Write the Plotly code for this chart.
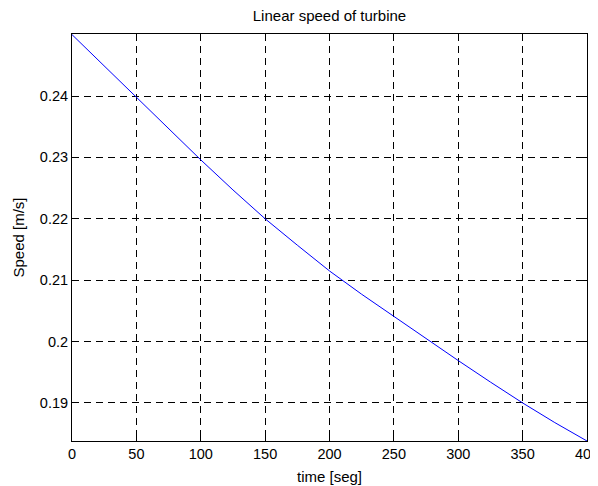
import plotly.graph_objects as go

# time [seg] and speed [m/s]
time_seg = [0, 25, 50, 75, 100, 125, 150, 175, 200, 225, 250, 275, 300, 325, 350, 375, 400]
speed = [0.2500, 0.2449, 0.2399, 0.2347, 0.2296, 0.2247, 0.2200, 0.2157, 0.2115,
         0.2077, 0.2041, 0.2004, 0.1969, 0.1934, 0.1900, 0.1868, 0.1838]

x_ticks = [0, 50, 100, 150, 200, 250, 300, 350, 400]
y_ticks = [0.19, 0.20, 0.21, 0.22, 0.23, 0.24]
y_tick_text = ["0.19", "0.2", "0.21", "0.22", "0.23", "0.24"]

fig = go.Figure()
fig.add_trace(go.Scatter(x=time_seg, y=speed, mode="lines",
                         line=dict(color="#0000ff", width=1)))

axis_style = dict(
    showline=True, linecolor="black", linewidth=1, mirror="ticks",
    ticks="inside", ticklen=5, tickcolor="black",
    showgrid=True, gridcolor="black", gridwidth=1, griddash="7px,5px",
    zeroline=False, tickfont=dict(size=14.5, color="black"),
    ticklabeloverflow="allow", automargin=False,
)

# page body has an 8px margin, so the figure is 8px smaller than the window
fig.update_layout(
    width=590, height=478,
    margin=dict(l=64, r=11, t=26, b=45),
    paper_bgcolor="white", plot_bgcolor="white",
    font=dict(family="Liberation Sans, Arial, sans-serif", size=15, color="black"),
    showlegend=False,
    title=dict(text="Linear speed of turbine", x=0.5, xref="paper", xanchor="center",
               y=1 - 8 / 478, yanchor="middle", font=dict(size=15)),
    xaxis=dict(range=[0, 400], tickvals=x_ticks, **axis_style),
    yaxis=dict(range=[0.1838, 0.2501], tickvals=y_ticks, ticktext=y_tick_text, **axis_style),
    annotations=[
        dict(text="time [seg]", xref="paper", yref="paper", x=0.5, y=0,
             xanchor="center", yanchor="middle", yshift=-35, showarrow=False),
        dict(text="Speed [m/s]", xref="paper", yref="paper", x=0, y=0.5,
             xanchor="center", yanchor="middle", xshift=-54, textangle=-90,
             showarrow=False),
    ],
)

fig.write_html("out.html")
